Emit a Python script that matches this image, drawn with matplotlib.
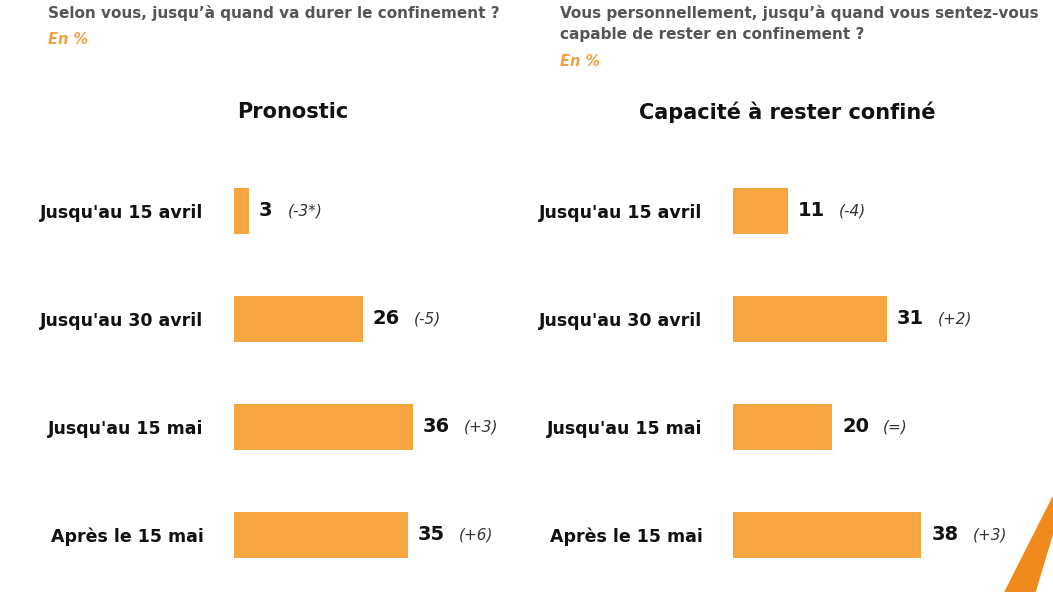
import matplotlib
matplotlib.use("Agg")
import matplotlib.pyplot as plt

CATS = ["Jusqu'au 15 avril", "Jusqu'au 30 avril", "Jusqu'au 15 mai", "Après le 15 mai"]
PRONO = [3, 26, 36, 35]
PRONO_DIFF = ["(-3*)", "(-5)", "(+3)", "(+6)"]
CAPA = [11, 31, 20, 38]
CAPA_DIFF = ["(-4)", "(+2)", "(=)", "(+3)"]

ORANGE = "#F7A540"
W, H = 1053, 592

fig = plt.figure(figsize=(W / 100, H / 100), dpi=100)
fig.patch.set_facecolor("white")


def panel(x0, vals, diffs, title, tx):
    ax = fig.add_axes([x0 / W, 3 / H, 248 / W, 432 / H])
    ys = list(range(len(vals)))
    ax.barh(ys, vals, height=0.43, color=ORANGE)
    ax.set_xlim(0, 50); ax.set_ylim(3.5, -0.5)
    ax.set_yticks(ys); ax.set_yticklabels(CATS, fontsize=12.5, fontweight="bold", color="#111")
    ax.tick_params(axis="y", length=0, pad=22); ax.set_xticks([])
    for s in ax.spines.values():
        s.set_visible(False)
    for y, v, d in zip(ys, vals, diffs):
        ax.annotate(str(v), (v, y), xytext=(10, 0), textcoords="offset pixels",
                    ha="left", va="center", fontsize=14, fontweight="bold", color="#111")
        ax.annotate(d, (v, y), xytext=(10 + 12.5 * len(str(v)) + 16, 0), textcoords="offset pixels",
                    ha="left", va="center", fontsize=11, style="italic", color="#333")
    fig.text(tx / W, 1 - 112 / H, title, ha="center", va="center", fontsize=15, fontweight="bold", color="#111")


panel(234, PRONO, PRONO_DIFF, "Pronostic", 293)
panel(733, CAPA, CAPA_DIFF, "Capacité à rester confiné", 787)

fig.text(48 / W, 1 - 13 / H, "Selon vous, jusqu’à quand va durer le confinement ?", ha="left", va="center",
         fontsize=11, fontweight="bold", color="#555")
fig.text(48 / W, 1 - 40 / H, "En %", ha="left", va="center", fontsize=10.5, fontweight="bold",
         style="italic", color="#F0A040")
fig.text(560 / W, 1 - 13 / H, "Vous personnellement, jusqu’à quand vous sentez-vous", ha="left", va="center",
         fontsize=11, fontweight="bold", color="#555")
fig.text(560 / W, 1 - 34 / H, "capable de rester en confinement ?", ha="left", va="center",
         fontsize=11, fontweight="bold", color="#555")
fig.text(560 / W, 1 - 61 / H, "En %", ha="left", va="center", fontsize=10.5, fontweight="bold",
         style="italic", color="#F0A040")

# orange corner decoration
fig.patches.append(plt.Polygon([[1005 / W, 0], [1035 / W, 0], [1053 / W, 60 / H], [1053 / W, 95 / H]],
                               closed=True, transform=fig.transFigure, color="#F08A1C"))

fig.savefig("out.png", dpi=100)
